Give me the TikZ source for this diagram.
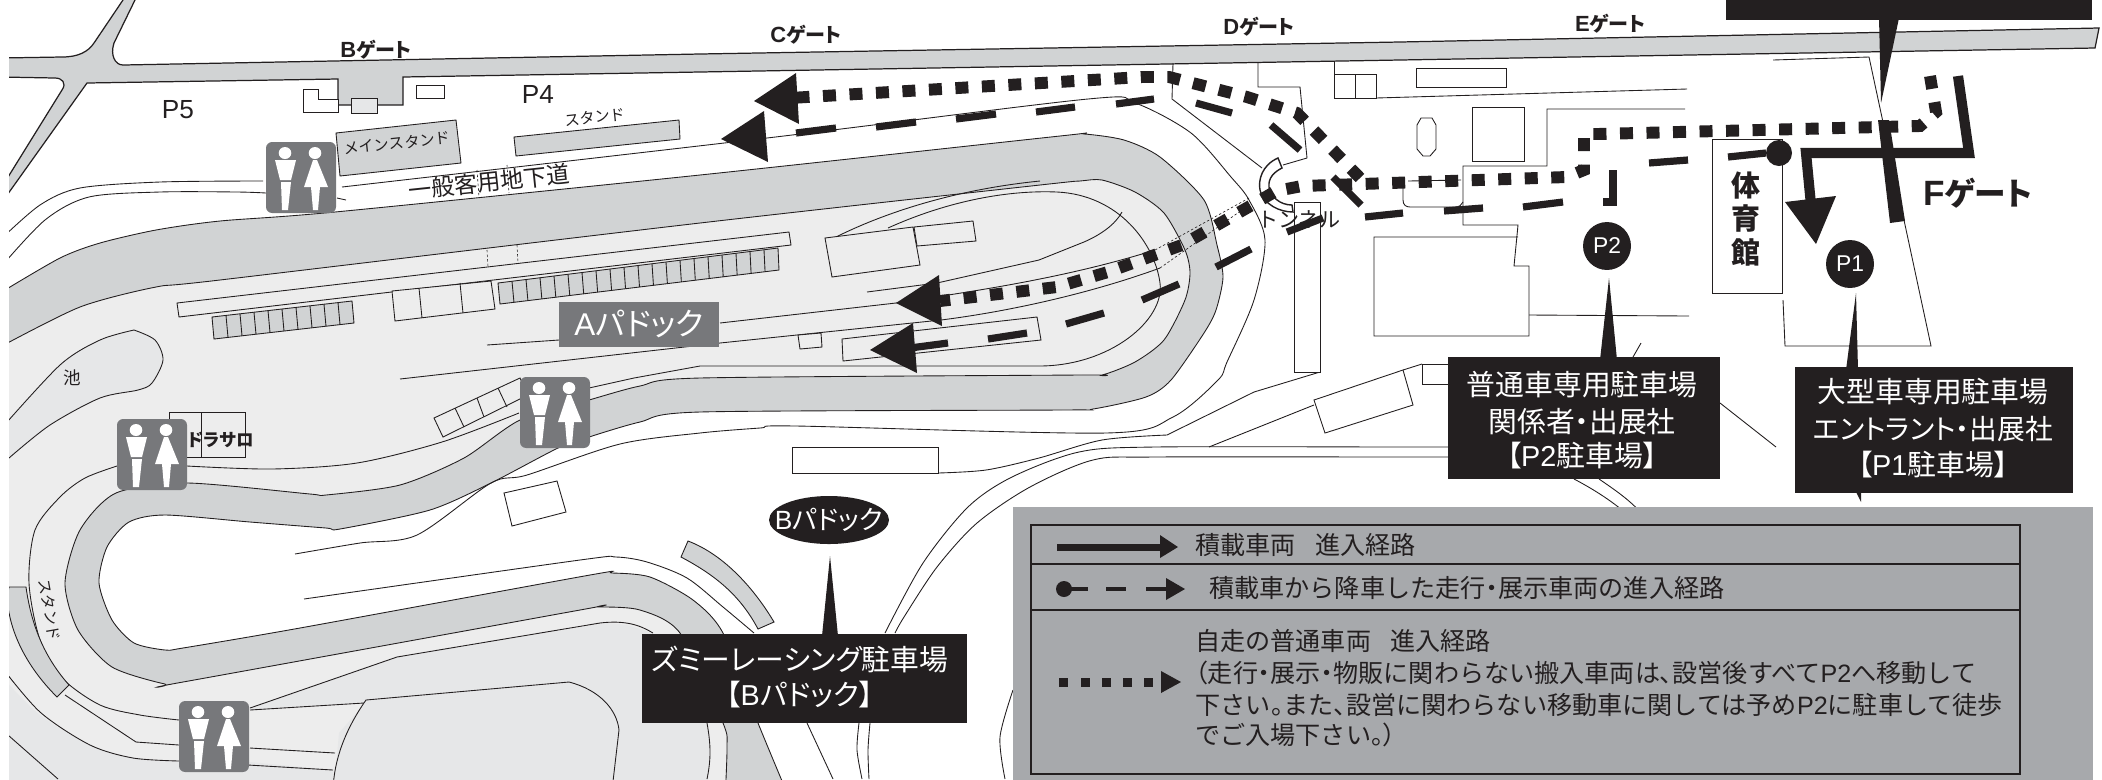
\documentclass[tikz,border=0pt]{standalone}
\usepackage{fontspec}
\usetikzlibrary{calc}
\setmainfont{Noto Sans CJK JP}
\newfontfamily\fw{Noto Sans CJK JP}
\newfontfamily\jp[RawFeature={+palt}]{Noto Sans CJK JP}
\newfontfamily\lat{Liberation Sans}
\definecolor{ink}{HTML}{231F20}
\definecolor{trk}{HTML}{D1D3D4}
\definecolor{infld}{HTML}{EDEDED}
\definecolor{bld}{HTML}{E6E7E8}
\definecolor{wcg}{HTML}{77787B}
\definecolor{lgd}{HTML}{A7A9AC}
\newcommand{\fsz}[1]{\fontsize{#1}{#1}\selectfont}
\newcommand{\nr}[1]{{\jp #1}}
\newcommand{\edgeB}{plot[smooth,tension=.45] coordinates {(0,293) (60,258) (100,243) (156,230) (220,221) (335,212) (700,175) (1060,136) (1084,134) (1124,140) (1160,157) (1204,200) (1217,245) (1223,277) (1216,310) (1204,333) (1171,380) (1146,397) (1093,409) (1060,410) (700,412) (640,422) (589,437) (558,448) (491,483) (430,510) (340,529) (326,528) (250,522) (165,515) (129,522) (107,547) (99,583) (112,620) (134,643) (165,650) (183,648) (300,628) (590,575) (612,573) (650,577) (693,600) (723,633) (758,723) (790,800)}}
\newcommand{\wc}[2]{%
  \begin{scope}[shift={(#1,#2)}]
    \fill[wcg,rounded corners=3.5pt] (0,0) rectangle (70,71);
    \fill[white] (19,11) circle [x radius=6.3,y radius=6];
    \fill[white] (49,11) circle [x radius=6.3,y radius=6];
    \fill[white] (9,18) -- (30,18) -- (25,38) -- (14,38) -- cycle;
    \fill[white] (15,40) -- (25,40) -- (22,68) -- (16,68) -- cycle;
    \fill[white] (47,18) -- (51,18) -- (62,45) -- (38,45) -- cycle;
    \fill[white] (45,45) -- (54,45) -- (52,68) -- (47,68) -- cycle;
  \end{scope}}
\tikzset{
  x=0.02cm,y=-0.02cm,
  ln/.style={draw=ink,line width=0.5pt},
  ln2/.style={draw=ink,line width=0.7pt},
  hair/.style={draw=ink,line width=0.35pt,dash pattern=on 1.4pt off 1.2pt},
  box/.style={ln,fill=white},
  ibox/.style={ln,fill=infld},
  dotroute/.style={draw=ink,line width=6.8pt,dash pattern=on 7.4pt off 7.7pt},
  dashroute/.style={draw=ink,line width=4.1pt},
  gate/.style={font=\jp\bfseries\fsz{11.4},text=ink,inner sep=0pt},
  mapt/.style={font=\fw\fsz{8.7},text=ink,inner sep=0pt},
  lgt/.style={font=\fw\fsz{14.3},text=ink,inner sep=0pt,anchor=west},
}
\begin{document}
\begin{tikzpicture}
\useasboundingbox (0,0) rectangle (2102,779);
\begin{scope}
\clip (9,0) rectangle (2102,779);
% ground
\fill[infld] \edgeB -- (790,800) -- (0,800) -- cycle;
\fill[bld] plot[smooth,tension=.5] coordinates {(0,675) (40,715) (90,745) (133,758) (178,761)} -- (250,762) -- (333,770) -- (333,800) -- (0,800) -- cycle;
\fill[bld] (250,708) -- (397,657) -- (607,623) -- (627,625) -- (653,633) -- (707,723) -- (710,750) -- (707,800) -- (333,800) -- (339,733) -- (366,702) -- (250,710) -- cycle;
\filldraw[ln,fill=bld] plot[smooth,tension=.5] coordinates {(134,330) (100,340) (60,365) (0,430)} -- (0,466) -- plot[smooth,tension=.5] coordinates {(9,458) (50,425) (100,398) (138,390) (152,383) (163,360) (155,340) (134,330)};
\filldraw[ln,fill=trk] \edgeB -- plot[smooth,tension=.45] coordinates {(725,800) (727,747) (723,723) (680,633) (640,610) (598,607) (580,610) (183,682) (165,684) (112,667) (78,630) (65,583) (80,530) (116,493) (187,483) (310,494) (326,495) (400,485) (464,458) (520,420) (589,400) (640,386) (700,378) (1080,375) (1102,375) (1135,362) (1164,340) (1185,300) (1190,273) (1185,250) (1164,213) (1135,192) (1102,180) (1080,181) (1040,185) (700,223) (220,280) (156,287) (80,307) (0,347)} -- cycle;
% lines lower left
\draw[ln] plot[smooth,tension=.5] coordinates {(0,665) (40,712) (90,745) (133,758) (179,761)};
\draw[ln] (0,728) -- (58,779);
\draw[ln] plot[smooth,tension=.5] coordinates {(179,720) (140,715) (100,705) (62,678) (40,640) (29,583) (35,530) (60,497) (85,478) (117,466)};
\draw[ln] (65,695) -- (136,742) -- (179,745);
\filldraw[ln,fill=trk] (9,587) -- (26,587) .. controls (32,630) and (47,660) .. (69,685) -- (57,697) .. controls (25,665) and (9,630) .. (7,597) -- cycle;
\draw[ln] (250,748) -- (335,753);
\draw[ln] (248,765) -- (333,770);
\draw[ln] (250,710) -- (364,703);
\draw[ln] (250,708) -- (397,657) -- (600,623) .. controls (625,620) and (640,625) .. (653,633);
\filldraw[ln,fill=bld] (333,790) .. controls (334,760) and (345,730) .. (366,700) -- (569,682) .. controls (600,690) and (617,710) .. (619,730) -- (612,790);
\draw[ln] (707,723) .. controls (711,745) and (711,760) .. (707,779);
% lines lower middle
\filldraw[ln,fill=trk] (688,541) .. controls (725,555) and (755,590) .. (774,622) -- (758,629) .. controls (740,595) and (715,575) .. (681,557) -- cycle;
\draw[ln] plot[smooth,tension=.5] coordinates {(304,599) (580,560) (616,557) (647,562) (687,578) (723,607) (754,633)};
\draw[ln] (807,723) -- (833,779);
\draw[ln] plot[smooth,tension=.5] coordinates {(295,554) (360,543) (417,535) (491,483) (527,475) (620,444) (700,433) (760,428) (796,426) (1106,433) (1173,417) (1218,380) (1227,362) (1254,300) (1265,240) (1249,200) (1231,177) (1191,133) (1135,103) (1088,99) (767,138) (342,187)};
\draw[ln] plot[smooth,tension=.5] coordinates {(938,473) (986,470) (1039,458) (1102,440) (1167,435)} -- (1254,392) -- (1320,372);
\draw[ln] plot[smooth,tension=.5] coordinates {(885,633) (923,563) (968,507) (1012,477) (1079,452) (1155,447) (1400,447) (1448,447)};
\draw[ln] plot[smooth,tension=.5] coordinates {(895,633) (904,617) (937,567) (977,523) (1030,487) (1093,460) (1155,457) (1400,457) (1448,457)};
\draw[ln] plot[smooth,tension=.5] coordinates {(859,723) (857,750) (862,779)};
\draw[ln] plot[smooth,tension=.5] coordinates {(870,723) (868,750) (869,779)};
\draw[ln] plot[smooth,tension=.5] coordinates {(1013,690) (1000,737) (1005,779)};
\draw[ln] (1574,479) .. controls (1595,490) and (1615,503) .. (1630,517);
\draw[ln] (1599,479) .. controls (1615,490) and (1630,500) .. (1643,515);
\draw[ln] (1209,447) -- (1314,405);
\draw[ln] (1720,403) -- (1776,447);
\draw[box] (792,447) rectangle (938,473);
\draw[box] (504,493) -- (557,481) -- (566,512) -- (512,526) -- cycle;
\draw[box] (1314,400) -- (1403,370) -- (1413,405) -- (1325,433) -- cycle;
\draw[ln] (1403,370) -- (1422,364);
\draw[box] (1422,364) rectangle (1448,384);
\draw[box] (1294,202) rectangle (1320,372);
% infield
\draw[ln] (487,345) -- (559,340);
\draw[ln] (400,379) -- (720,343) -- (941,320) .. controls (1020,310) and (1100,290) .. (1160,268);
\draw[ln] (720,323) -- (896,303);
\draw[ln] (896,303) .. controls (960,293) and (1060,280) .. (1155,250);
\draw[ln] (867,292) -- (937,283) -- (1039,260) -- (1084,242) .. controls (1100,235) and (1115,225) .. (1122,212);
\draw[ln] (836,237) .. controls (880,215) and (950,190) .. (1040,181);
\draw[ln] (888,228) .. controls (950,200) and (1010,190) .. (1057,192) .. controls (1120,195) and (1155,245) .. (1160,283) .. controls (1165,320) and (1110,366) .. (1039,366) -- (700,366) -- (634,378) -- (589,388);
\draw[hair] (1155,250) -- (1249,198);
\draw[hair] (1160,268) -- (1249,205);
\draw[ln] plot[smooth,tension=.5] coordinates {(187,466) (272,469) (357,463) (442,442) (519,413)};
% boxes infield
\draw[ibox] (177,303) -- (789,232) -- (791,245) -- (179,317) -- cycle;
\draw[hair] (487,250) -- (488,267);
\draw[hair] (517,245) -- (518,263);
\filldraw[ln,fill=trk] (212,317) -- (352,301) -- (354,323) -- (214,339) -- cycle;
\foreach \i in {1,...,9} \draw[ln] ($(212,317)!\i/10!(352,301)$) -- ($(214,339)!\i/10!(354,323)$);
\filldraw[ln,fill=trk] (498,283) -- (778,248) -- (779,270) -- (500,304) -- cycle;
\foreach \i in {1,...,19} \draw[ln] ($(498,283)!\i/20!(778,248)$) -- ($(500,304)!\i/20!(779,270)$);
\draw[ibox] (392,291) -- (491,281) -- (495,309) -- (395,321) -- cycle;
\draw[ln] (419,288) -- (422,318);
\draw[ln] (460,283) -- (463,313);
\draw[ibox] (825,238) -- (913,227) -- (920,265) -- (832,277) -- cycle;
\draw[ibox] (914,227) -- (973,221) -- (976,241) -- (917,246) -- cycle;
\draw[ibox] (798,335) -- (821,333) -- (822,347) -- (800,349) -- cycle;
\draw[ibox] (842,339) -- (1037,317) -- (1041,340) -- (843,361) -- cycle;
\draw[ibox] (434,418) -- (520,378) -- (528,395) -- (443,437) -- cycle;
\draw[ln] (455,408) -- (464,427);
\draw[ln] (477,398) -- (484,417);
\draw[ln] (498,388) -- (507,407);
\node[font=\jp\bfseries\fsz{10},text=ink,inner sep=0pt] (dorasaro) at (221,440) {ドラサロ};
\draw[ln] (169,412) rectangle (245,457);
\draw[ln] (201,412) -- (201,457);
% road
\filldraw[ln2,fill=trk] (0,58) -- (62,57) .. controls (78,57) and (88,52) .. (94,43) -- (123,0) -- (123,-5) -- (135,-5) -- (135,0) -- (114,43) .. controls (110,55) and (115,65) .. (123,65) -- (700,54) -- (1400,42) -- (2099,28) -- (2095,48) -- (1400,60) -- (700,72) -- (403,77) -- (403,105) -- (338,105) -- (338,79) -- (87,83) -- (0,205) -- (0,190) -- (62,90) .. controls (67,83) and (62,78) .. (55,78) -- (0,77) -- cycle;
\draw[box] (303,89) -- (318,89) -- (318,99) -- (338,99) -- (338,112) -- (303,112) -- cycle;
\filldraw[ln,fill=bld] (351,98) rectangle (377,113);
\draw[box] (416,85) rectangle (444,98);
% upper left lines
\draw[ln] plot[smooth,tension=.5] coordinates {(0,240) (40,205) (80,188) (160,182) (263,181)};
\draw[ln] plot[smooth,tension=.5] coordinates {(0,268) (45,220) (89,197) (160,192) (237,192) (266,193)};
\draw[ln] (337,198) -- (346,200);
\filldraw[ln,fill=trk] (336,133) -- (456,120) -- (461,163) -- (340,176) -- cycle;
\filldraw[ln,fill=trk] (514,137) -- (679,120) -- (680,139) -- (516,156) -- cycle;
\draw[hair] (477,170) -- (479,197);
\draw[hair] (507,165) -- (509,193);
% right side buildings
\draw[ln] (1173,63) -- (1172,99) -- (1262,168);
\draw[ln] (1258,63) -- (1258,87) -- (1300,87) -- (1307,158) -- (1283,165);
\draw[box] (1334,74) rectangle (1376,98);
\draw[ln] (1355,74) -- (1355,98);
\draw[ln] (1334,61) -- (1334,74);
\draw[ln] (1376,98) -- (1687,89);
\draw[box] (1416,68) rectangle (1506,87);
\draw[box] (1421,118) -- (1432,118) -- (1436,125) -- (1436,149) -- (1430,156) -- (1423,156) -- (1417,149) -- (1417,125) -- cycle;
\draw[box] (1472,107) rectangle (1524,161);
\draw[ln] (1685,109) -- (1547,109) -- (1547,166) -- (1463,166) -- (1463,225) -- (1518,225) -- (1514,266) -- (1529,266) -- (1529,336) -- (1374,336) -- (1374,237) -- (1518,237);
\draw[ln] (1529,315) -- (1689,316);
\draw[ln] (1408,181) -- (1461,180);
\draw[ln] (1403,187) -- (1403,200) .. controls (1403,205) and (1406,207) .. (1410,207) -- (1455,207) .. controls (1459,207) and (1462,205) .. (1463,202);
\draw[box] (1712,139) rectangle (1782,293);
\draw[ln] (1773,60) -- (1869,57) -- (1931,346) -- (1785,346) -- (1783,300);
\draw[ln] (1633,357) -- (1641,343);
% texts on map
\node[font=\lat\fsz{14.9},text=ink,inner sep=0pt] (pfive) at (178,110) {P5};
\node[font=\lat\fsz{14.9},text=ink,inner sep=0pt] (pfour) at (538,94) {P4};
\node[mapt,rotate=6] (mainst) at (397,143) {メインスタンド};
\node[mapt,rotate=6] (st) at (595,117) {スタンド};
\node[mapt,rotate=-80] (stb) at (50,610) {スタンド};
\node[mapt,font=\fw\fsz{10}] (ike) at (72,378) {池};
\node[font=\fw\fsz{13.2},text=ink,inner sep=0pt,rotate=6] (subway) at (489,182) {一般客用地下道};
\node[gate] (bg) at (376,50) {{\lat\fsz{12.5}B}ゲート};
\node[gate] (cg) at (806,35) {{\lat\fsz{12.5}C}ゲート};
\node[gate] (dg) at (1259,27) {{\lat\fsz{12.5}D}ゲート};
\node[gate] (eg) at (1610,24) {{\lat\fsz{12.5}E}ゲート};
\node[gate,font=\jp\bfseries\fsz{18}] (fg) at (1978,193) {{\lat\fsz{20}F}ゲート};
\node[font=\fw\bfseries\fsz{16.5},text=ink,inner sep=0pt,align=center] (gym) at (1746,219) {体\\[2.5pt]育\\[2.5pt]館};
\fill[wcg] (559,302) rectangle (719,347);
\node[font=\jp\fsz{17.9},text=white,inner sep=0pt] (apadt) at (639,324) {{\lat A}パドック};
% tunnel
\filldraw[line width=0.8pt,draw=ink,fill=white] (1278,158) .. controls (1262,165) and (1258,180) .. (1260,190) .. controls (1264,205) and (1280,212) .. (1293,212) -- (1292,205) .. controls (1280,205) and (1271,197) .. (1269,187) .. controls (1268,178) and (1274,172) .. (1282,168) -- cycle;
\node[font=\fw\fsz{12},text=ink,inner sep=0pt] (tun) at (1299,219) {トンネル};
% routes
\draw[dotroute] (1930,76) -- (1936,112) -- (1920,126) -- (1598,134) -- (1584,134) -- (1584,170) -- (1567,177) -- (1302,186) -- (1276,191) -- (1252,205) -- (1182,245) -- (1108,272) -- (1057,287) -- (940,301);
\fill[ink] (939,275) -- (896,303) -- (942,326) -- cycle;
\draw[dotroute] (1360,178) -- (1297,113) -- (1247,97) -- (1169,77) -- (1142,77) -- (790,98);
\fill[ink] (796,73) -- (754,101) -- (799,124) -- cycle;
\foreach \a/\b/\c/\d in {1728/157/1766/153,1649/163/1688/160,1523/207/1563/202,1444/211/1483/208,1365/217/1403/213,1287/232/1323/218,1216/267/1251/249,1142/300/1179/284,1066/324/1104/313,988/339/1027/333,910/348/948/343,1333/177/1361/205,1271/125/1300/150,1196/103/1232/113,1116/104/1154/99,1036/112/1075/107,956/119/996/114,876/127/916/122,796/133/836/128}
  \draw[dashroute] (\a,\b) -- (\c,\d);
\draw[dashroute] (1603,202) -- (1613,202) -- (1613,170);
\fill[ink] (913,323) -- (870,350) -- (917,373) -- cycle;
\fill[ink] (764,111) -- (721,139) -- (768,162) -- cycle;
\fill[ink] (1779,153) circle [radius=13];
\draw[draw=ink,line width=5.8pt] (1958,76) -- (1969,153) -- (1806,153) -- (1811,205);
\fill[ink] (1785,202) -- (1836,196) -- (1816,244) -- cycle;
\fill[ink] (1878,120) -- (1889,120) -- (1905,221) -- (1890,223) -- cycle;
% toilets
\wc{266}{142}
\wc{520}{377}
\wc{117}{419}
\wc{179}{701}
% top label
\fill[ink] (1726,-2) rectangle (2092,20);
\fill[ink] (1879,18) -- (1899,18) -- (1881,103) -- cycle;
% P circles and captions
\node[circle,fill=ink,text=white,inner sep=0pt,minimum size=27.3pt,font=\lat\fsz{13}] (ptwo) at (1607,246) {P2};
\node[circle,fill=ink,text=white,inner sep=0pt,minimum size=27.3pt,font=\lat\fsz{13}] (pone) at (1850,264) {P1};
\fill[ink] (1609,278) -- (1600,360) -- (1617,360) -- cycle;
\fill[ink] (1856,293) -- (1846,370) -- (1858,370) -- cycle;
\fill[ink] (1855,490) -- (1861,490) -- (1861,502) -- cycle;
\fill[ink] (830,556) -- (822,636) -- (838,636) -- cycle;
\fill[ink] (829,520) circle [x radius=60,y radius=24];
\node[font=\jp\fsz{15},text=white,inner sep=0pt] (bpadt) at (829,520) {{\lat B}パドック};
\fill[ink] (1448,357) rectangle (1720,479);
\node[font=\jp\fsz{16.4},text=white,inner sep=0pt,align=center] (pzlab) at (1582,420) {普通車専用駐車場\\[4.5pt]関係者・出展社\\[3pt]【{\lat P2}駐車場】};
\fill[ink] (1795,367) rectangle (2073,493);
\node[font=\jp\fsz{16.4},text=white,inner sep=0pt,align=center] (polab) at (1933,428) {大型車専用駐車場\\[5pt]{\fsz{15.8}エントラント・出展社}\\[4pt]【{\lat P1}駐車場】};
\fill[ink] (642,634) rectangle (967,723);
\node[font=\jp\fsz{16.4},text=white,inner sep=0pt,align=center] (bzlab) at (800,677) {ズミーレーシング駐車場\\[3pt]【{\lat B}パドック】};
% legend
\fill[lgd] (1013,507) rectangle (2093,790);
\draw[ink,line width=0.8pt] (1031,525) rectangle (2020,774);
\draw[ink,line width=0.8pt] (1031,564) -- (2020,564);
\draw[ink,line width=0.8pt] (1031,610) -- (2020,610);
\fill[ink] (1057,543.5) rectangle (1161,551);
\fill[ink] (1160,535) -- (1178,547) -- (1160,558) -- cycle;
\node[lgt] (lga) at (1195,545) {積載車両\hspace{11pt}進入経路};
\fill[ink] (1064,589) circle [radius=8];
\draw[ink,line width=2.4pt] (1064,589) -- (1088,589);
\draw[ink,line width=2.4pt] (1106,589) -- (1126,589);
\draw[ink,line width=2.4pt] (1146,589) -- (1167,589);
\fill[ink] (1166,578) -- (1185,589) -- (1166,600) -- cycle;
\node[lgt] (lgb) at (1209,588) {積載車から降車した走行\nr{・}展示車両の進入経路};
\foreach \u in {1063.5,1085,1106,1127,1148} \fill[ink] (\u-4.5,677.5) rectangle (\u+4.5,686.5);
\fill[ink] (1161,671) -- (1181,682) -- (1161,693) -- cycle;
\node[lgt] (lgc) at (1195,641) {自走の普通車両\hspace{11pt}進入経路};
\node[lgt] (lgd) at (1195,673) {\nr{（}走行\nr{・}展示\nr{・}物販に関わらない搬入車両は\nr{、}設営後すべて{\lat P2}へ移動して};
\node[lgt] (lge) at (1195,705) {下さい\nr{。}また\nr{、}設営に関わらない移動車に関しては予め{\lat P2}に駐車して徒歩};
\node[lgt] (lgf) at (1195,735) {でご入場下さい\nr{。）}};
\end{scope}
\end{tikzpicture}
\end{document}
